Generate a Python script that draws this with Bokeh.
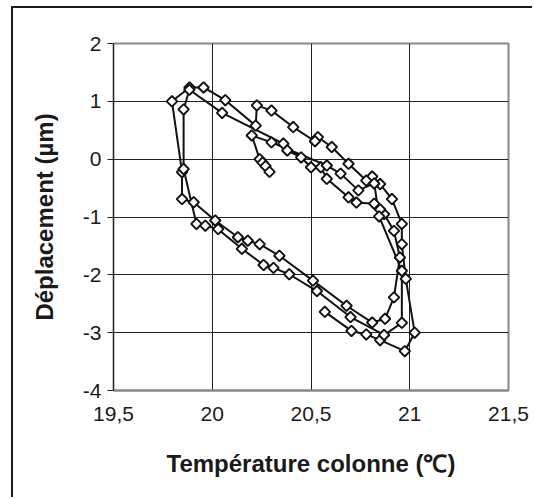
import numpy as np
from bokeh.plotting import figure
from bokeh.models import Range1d, FixedTicker, ColumnDataSource
from bokeh.embed import file_html
from bokeh.resources import INLINE

# Temperature (°C) and displacement (µm), in measurement order
temperature = [
    20.57, 20.705, 20.78, 20.85, 20.975, 21.025, 20.98, 20.96, 20.96, 20.91,
    20.85, 20.81, 20.78, 20.69, 20.605, 20.535, 20.52, 20.41, 20.30, 20.226,
    20.22, 20.066, 19.956, 19.885, 19.796, 19.847, 19.847, 19.906, 20.015, 20.13,
    20.18, 20.24, 20.34, 20.51, 20.68, 20.81, 20.875, 20.92, 20.95, 20.92,
    20.87, 20.85, 20.82, 20.73, 20.69, 20.58, 20.55, 20.50, 20.45, 20.38,
    20.36, 20.05, 19.884, 19.855, 19.855, 19.92, 19.965, 20.03, 20.15, 20.26,
    20.31, 20.39, 20.53, 20.70, 20.87, 20.96, 20.96, 20.845, 20.82, 20.74,
    20.65, 20.58, 20.30, 20.20, 20.24, 20.255, 20.27, 20.29,
]
displacement = [
    -2.64, -2.97, -3.03, -3.13, -3.32, -3.00, -2.07, -1.47, -1.12, -0.69,
    -0.43, -0.30, -0.37, -0.08, 0.21, 0.38, 0.31, 0.555, 0.84, 0.93,
    0.58, 1.02, 1.24, 1.24, 1.00, -0.225, -0.69, -0.745, -1.06, -1.35,
    -1.41, -1.47, -1.67, -2.10, -2.535, -2.825, -2.76, -2.39, -1.70, -1.24,
    -0.95, -0.87, -0.77, -0.75, -0.66, -0.34, -0.14, -0.14, 0.03, 0.15,
    0.27, 0.80, 1.20, 0.86, -0.17, -1.12, -1.15, -1.21, -1.55, -1.83,
    -1.88, -1.99, -2.28, -2.73, -3.04, -2.83, -1.93, -0.99, -0.42, -0.54,
    -0.25, -0.11, 0.29, 0.41, 0.00, -0.06, -0.12, -0.22,
]

x_ticks = [19.5, 20.0, 20.5, 21.0, 21.5]
x_tick_labels = ["19,5", "20", "20,5", "21", "21,5"]
y_ticks = [-4, -3, -2, -1, 0, 1, 2]
y_tick_labels = ["-4", "-3", "-2", "-1", "0", "1", "2"]

x_title = "Température colonne (℃)"
y_title = "Déplacement (µm)"

src = ColumnDataSource(dict(x=temperature, y=displacement))

p = figure(width=521, height=491, output_backend="svg", toolbar_location=None,
           x_range=Range1d(19.5, 21.5), y_range=Range1d(-4, 2),
           min_border_left=100, min_border_right=26,
           min_border_top=35, min_border_bottom=109)
p.margin = (8, 0, 0, 13)
p.styles = {"box-shadow": "-2px -2px 0 0 #1a1a1a"}

p.background_fill_color = "white"
p.border_fill_color = "white"
p.outline_line_color = "#888888"
p.outline_line_width = 2

font = "Liberation Sans"

p.xaxis.ticker = FixedTicker(ticks=x_ticks)
p.xaxis.major_label_overrides = {t: l for t, l in zip(x_ticks, x_tick_labels)}
p.yaxis.ticker = FixedTicker(ticks=y_ticks)
p.yaxis.major_label_overrides = {t: l for t, l in zip(y_ticks, y_tick_labels)}
p.xgrid.ticker = FixedTicker(ticks=x_ticks)
p.ygrid.ticker = FixedTicker(ticks=y_ticks)
for g in (p.xgrid, p.ygrid):
    g.grid_line_color = "#222222"
    g.grid_line_width = 1

p.xaxis.axis_line_color = "#888888"
p.xaxis.axis_line_width = 2
p.xaxis.major_tick_out = 0
p.xaxis.major_tick_in = 0
p.xaxis.minor_tick_line_color = None
p.xaxis.major_label_standoff = 16

p.yaxis.axis_line_color = "#222222"
p.yaxis.axis_line_width = 1
p.yaxis.major_tick_line_color = "#222222"
p.yaxis.major_tick_out = 6
p.yaxis.major_tick_in = 0
p.yaxis.minor_tick_line_color = None
p.yaxis.major_label_standoff = 6

for ax in (p.xaxis, p.yaxis):
    ax.major_label_text_font = font
    ax.major_label_text_font_size = "21px"
    ax.major_label_text_color = "#1a1a1a"
    ax.axis_label_text_font = font
    ax.axis_label_text_font_size = "24px"
    ax.axis_label_text_font_style = "bold"
    ax.axis_label_text_color = "#1a1a1a"

p.xaxis.axis_label = x_title
p.yaxis.axis_label = y_title
p.xaxis.axis_label_standoff = 26
p.yaxis.axis_label_standoff = 22

p.line("x", "y", source=src, line_color="#111111", line_width=2)
p.scatter("x", "y", source=src, marker="square", angle=np.pi / 4, size=7.5,
          fill_color="white", line_color="#111111", line_width=1.9)

open("out.html", "w").write(file_html(p, INLINE))
